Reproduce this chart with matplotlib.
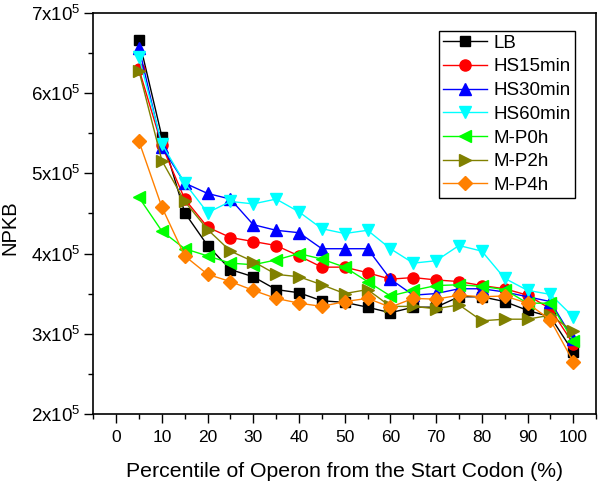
import numpy as np
import matplotlib.pyplot as plt
from matplotlib.ticker import FuncFormatter, MultipleLocator

plt.rcParams['font.family'] = ['Liberation Sans', 'DejaVu Sans']
plt.rcParams['mathtext.fontset'] = 'custom'
plt.rcParams['mathtext.rm'] = 'Liberation Sans'

# percentile positions along the operon
pct = [5, 10, 15, 20, 25, 30, 35, 40, 45, 50, 55, 60, 65, 70, 75, 80, 85, 90, 95, 100]

# NPKB values, in units of 1e5
lb = [6.67, 5.46, 4.51, 4.10, 3.80, 3.71, 3.55, 3.51, 3.41, 3.39, 3.33, 3.26, 3.33, 3.33, 3.46, 3.46, 3.40, 3.29, 3.21, 2.77]
hs15 = [6.30, 5.35, 4.68, 4.33, 4.20, 4.15, 4.10, 3.97, 3.83, 3.83, 3.76, 3.68, 3.70, 3.67, 3.65, 3.60, 3.56, 3.48, 3.31, 2.87]
hs30 = [6.57, 5.33, 4.88, 4.75, 4.68, 4.36, 4.29, 4.26, 4.06, 4.06, 4.06, 3.68, 3.48, 3.50, 3.56, 3.56, 3.52, 3.46, 3.40, 2.93]
hs60 = [6.45, 5.37, 4.88, 4.51, 4.65, 4.62, 4.68, 4.52, 4.31, 4.25, 4.29, 4.06, 3.88, 3.91, 4.10, 4.03, 3.69, 3.54, 3.49, 3.21]
mp0 = [4.70, 4.28, 4.06, 3.97, 3.88, 3.86, 3.92, 4.00, 3.93, 3.83, 3.65, 3.47, 3.54, 3.60, 3.61, 3.59, 3.55, 3.38, 3.38, 2.91]
mp2 = [6.28, 5.16, 4.65, 4.30, 4.03, 3.90, 3.74, 3.71, 3.61, 3.50, 3.55, 3.34, 3.34, 3.31, 3.36, 3.16, 3.18, 3.18, 3.23, 3.03]
mp4 = [5.40, 4.58, 3.97, 3.74, 3.65, 3.54, 3.44, 3.38, 3.34, 3.40, 3.44, 3.33, 3.44, 3.43, 3.48, 3.46, 3.47, 3.38, 3.17, 2.65]

names = ['LB', 'HS15min', 'HS30min', 'HS60min', 'M-P0h', 'M-P2h', 'M-P4h']
series = [lb, hs15, hs30, hs60, mp0, mp2, mp4]
colors = ['#000000', '#ff0000', '#0000ff', '#00ffff', '#00ff00', '#808000', '#ff8000']
markers = ['s', 'o', '^', 'v', '<', '>', 'D']
msizes = [7, 8, 8.5, 8.5, 8.5, 8.5, 7]

fig = plt.figure(figsize=(6, 4.83), dpi=100)
ax = fig.add_axes([0.1555, 0.1435, 0.838, 0.829])

for vals, name, c, m, ms in zip(series, names, colors, markers, msizes):
    ax.plot(pct, np.array(vals) * 1e5, color=c, marker=m, markersize=ms,
            linewidth=1, label=name)

ax.set_xlim(-5, 105)
ax.set_ylim(2e5, 7e5)
ax.set_xticks(np.arange(0, 101, 10))
ax.xaxis.set_minor_locator(MultipleLocator(5))
ax.yaxis.set_major_locator(MultipleLocator(1e5))
ax.yaxis.set_minor_locator(MultipleLocator(0.5e5))
ax.yaxis.set_major_formatter(FuncFormatter(lambda v, p: r'$\mathregular{%dx10^{5}}$' % round(v / 1e5)))

ax.tick_params(which='both', direction='out', top=False, right=False)
ax.tick_params(axis='x', labelsize=12.5, pad=5.5)
ax.tick_params(axis='y', labelsize=13.5, pad=3)
ax.tick_params(which='major', length=6.5, width=1)
ax.tick_params(which='minor', length=3.5, width=1)
for s in ax.spines.values():
    s.set_linewidth(1.2)

ax.set_xlabel('Percentile of Operon from the Start Codon (%)', fontsize=15.3, labelpad=12)
ax.set_ylabel('NPKB', fontsize=14.5)
ax.yaxis.set_label_coords(-0.148, 0.465)

leg = ax.legend(loc='upper left', bbox_to_anchor=(0.688, 0.956), fontsize=13.5,
                fancybox=False, framealpha=1, edgecolor='black',
                handlelength=2.35, handletextpad=0.37, labelspacing=0.35,
                borderpad=0.2, borderaxespad=0)
leg.get_frame().set_linewidth(1)

fig.savefig('out.png', dpi=100)
